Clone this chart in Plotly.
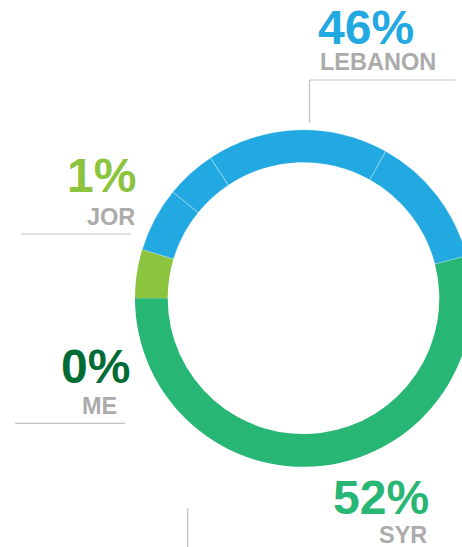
import plotly.graph_objects as go

# ---- data ----
slice_labels = ["JOR", "SYR", "LEBANON a", "LEBANON b", "LEBANON c", "LEBANON d", "ME"]
slice_values = [4.67, 54.06, 12.83, 17.44, 4.81, 6.19, 0.0]
slice_colors = ["#8CC43F", "#27B674", "#22A9E1", "#22A9E1", "#22A9E1", "#22A9E1", "#006C35"]
slice_line_w = [0, 0, 0.5, 0.5, 0.5, 0.5, 0]

callout_pct = ["46%", "1%", "0%", "52%"]
callout_name = ["LEBANON", "JOR", "ME", "SYR"]
callout_color = ["#22A9E1", "#8CC43F", "#006C35", "#27B674"]

W, H = 480, 547
FONT = "Liberation Sans, Arial, Helvetica, sans-serif"
GREY = "#ABABAB"
LINE = "#C2C2C2"


def px(x):
    return x / W


def py(y):
    return 1 - y / H


cx, cy, R = 303.5, 298.3, 168.5

fig = go.Figure(
    go.Pie(
        labels=slice_labels,
        values=slice_values,
        sort=False,
        direction="counterclockwise",
        rotation=-90,
        hole=0.806,
        textinfo="none",
        hoverinfo="label+percent",
        marker=dict(colors=slice_colors,
                    line=dict(color="rgba(255,255,255,0.65)", width=slice_line_w)),
        domain=dict(x=[px(cx - R), px(cx + R)], y=[py(cy + R), py(cy - R)]),
        showlegend=False,
    )
)

# callout positions (pixels): (pct x, pct y, name x, name y, anchor)
pos = [
    (317, 27.9, 319, 62.0, "left"),
    (136.5, 175.0, 135.5, 216.7, "right"),
    (130.5, 366.3, 118.0, 405.5, "right"),
    (430.0, 497.0, 428.0, 534.5, "right"),
]

ann = []
for i, (x1, y1, x2, y2, anc) in enumerate(pos):
    ann.append(dict(x=px(x1), y=py(y1), xref="paper", yref="paper", text=callout_pct[i],
                    showarrow=False, xanchor=anc, yanchor="middle", borderpad=0,
                    font=dict(family=FONT, size=48, color=callout_color[i], weight="bold")))
    ann.append(dict(x=px(x2), y=py(y2), xref="paper", yref="paper", text=callout_name[i],
                    showarrow=False, xanchor=anc, yanchor="middle", borderpad=0,
                    font=dict(family=FONT, size=23.5, color=GREY, weight="bold")))

segs = [
    (309.5, 80, 455, 80),
    (309.5, 80, 309.5, 123),
    (21, 234, 130.7, 234),
    (15.3, 423.3, 125, 423.3),
    (187.7, 508.3, 187.7, 547),
]
shapes = [dict(type="line", xref="paper", yref="paper", x0=px(a), y0=py(b), x1=px(c), y1=py(d),
               line=dict(color=LINE, width=1.2)) for a, b, c, d in segs]

fig.update_layout(
    width=W, height=H, autosize=False,
    margin=dict(l=0, r=0, t=0, b=0),
    paper_bgcolor="white", plot_bgcolor="white",
    annotations=ann, shapes=shapes,
)

fig.write_html(
    "out.html",
    config={"displayModeBar": False},
    post_script="document.body.style.margin='0';document.body.style.overflow='hidden';document.documentElement.style.overflow='hidden';",
)
